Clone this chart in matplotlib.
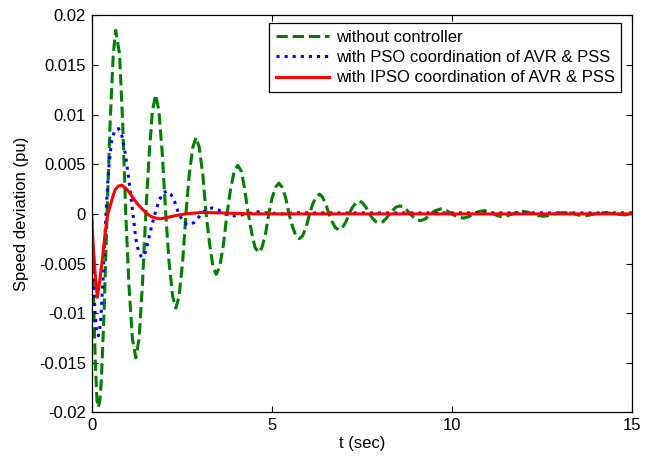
import numpy as np
import matplotlib
matplotlib.use("Agg")
import matplotlib.pyplot as plt

plt.rcParams["font.family"] = ["Liberation Sans", "DejaVu Sans"]
plt.rcParams["font.size"] = 12

# ------------------------
# Data
# ------------------------

# without controller
t_none = [0, 0.05, 0.10, 0.15, 0.19, 0.23, 0.27, 0.35, 0.43,
          0.517, 0.603, 0.67, 0.777, 0.863, 0.95,
          1.04, 1.135, 1.23, 1.32, 1.41, 1.505,
          1.60, 1.69, 1.78, 1.87, 1.965, 2.06,
          2.15, 2.25, 2.34, 2.43, 2.53, 2.62,
          2.71, 2.81, 2.90, 2.99, 3.09, 3.18,
          3.28, 3.37, 3.46, 3.56, 3.66, 3.76,
          3.86, 3.96, 4.06, 4.16, 4.25, 4.35,
          4.45, 4.54, 4.64, 4.73, 4.83, 4.92,
          5.01, 5.11, 5.20, 5.29, 5.39, 5.48,
          5.58, 5.67, 5.77, 5.86, 5.96, 6.05,
          6.14, 6.23, 6.33, 6.41, 6.50, 6.59,
          6.68, 6.77, 6.86, 6.96, 7.06, 7.15,
          7.24, 7.34, 7.43, 7.52, 7.62, 7.71,
          7.80, 7.90, 7.99, 8.08, 8.18, 8.27,
          8.37, 8.46, 8.56, 8.65, 8.75, 8.84,
          8.98, 9.12, 9.27, 9.41,
          9.55, 9.70, 9.85, 10.0,
          10.15, 10.32, 10.46, 10.6,
          10.74, 10.9, 11.02, 11.15,
          11.28, 11.4, 11.54, 11.68,
          11.82, 11.95, 12.1, 12.25,
          12.4, 12.55, 12.7, 12.85,
          13.0, 13.15, 13.28, 13.4,
          13.53, 13.67, 13.81, 13.95,
          14.1, 14.25, 14.38, 14.52,
          14.8, 15.0]
y_none = [0, -0.0075, -0.0145, -0.0188, -0.0195, -0.0188, -0.0170, -0.0098, 0,
          0.0093, 0.0161, 0.0185, 0.0161, 0.0093, 0,
          -0.0073, -0.0126, -0.0145, -0.0126, -0.0073, 0,
          0.0060, 0.0104, 0.0120, 0.0104, 0.0060, 0,
          -0.0048, -0.0083, -0.0095, -0.0083, -0.0048, 0,
          0.0039, 0.0067, 0.0077, 0.0067, 0.0039, 0,
          -0.0031, -0.0053, -0.0061, -0.0053, -0.0031, 0,
          0.0025, 0.0043, 0.0049, 0.0043, 0.0025, 0,
          -0.0020, -0.0034, -0.0039, -0.0034, -0.0020, 0,
          0.0016, 0.0027, 0.0031, 0.0027, 0.0016, 0,
          -0.0013, -0.0022, -0.0025, -0.0022, -0.0013, 0,
          0.0010, 0.0017, 0.0020, 0.0017, 0.0010, 0,
          -0.0008, -0.0014, -0.0016, -0.0014, -0.0008, 0,
          0.00065, 0.0011, 0.0013, 0.0011, 0.00065, 0,
          -0.00045, -0.0008, -0.0009, -0.0008, -0.00045, 0,
          0.0004, 0.0007, 0.0008, 0.0007, 0.0004, 0,
          -0.0005, -0.0007, -0.0005, 0,
          0.00035, 0.0005, 0.00035, 0,
          -0.0003, -0.00042, -0.0003, 0,
          0.00023, 0.00033, 0.00023, 0,
          -0.0002, -0.0003, -0.0002, 0,
          0.00018, 0.00026, 0.00018, 0,
          -0.00017, -0.00024, -0.00017, 0,
          0.0001, 0.00015, 0.0001, 0,
          -0.00013, -0.00018, -0.00013, 0,
          0.00008, 0.00012, 0.00008, 0,
          -0.0001, 0]

# with PSO coordination
t_pso = [0, 0.04, 0.09, 0.14, 0.19, 0.25, 0.32, 0.40, 0.47, 0.55, 0.64,
         0.75, 0.85, 0.95, 1.05, 1.15, 1.23, 1.31, 1.40, 1.49, 1.58, 1.67,
         1.76, 1.87, 1.98, 2.09, 2.20, 2.31, 2.42, 2.52, 2.62, 2.72, 2.83,
         2.94, 3.05, 3.20, 3.36, 3.52, 3.70, 3.84, 3.98, 4.14, 4.30, 4.60,
         4.90, 5.30, 5.70, 6.20, 7.0, 8.0, 9.0, 10.0, 11.0, 12.0, 13.0,
         14.0, 15.0]
y_pso = [0, -0.0050, -0.0095, -0.0118, -0.0123, -0.0110, -0.0065, 0,
         0.0043, 0.0072, 0.0084, 0.0086, 0.0078, 0.0058, 0.0030, 0,
         -0.0025, -0.0039, -0.0044, -0.0039, -0.0026, -0.0012, 0,
         0.0013, 0.0021, 0.0023, 0.0020, 0.0012, 0, -0.0006, -0.0010,
         -0.0011, -0.0009, -0.0005, 0, 0.0005, 0.0006, 0.0004, 0,
         -0.00015, -0.0002, -0.00012, 0, 0.0002, 0.0001, 0, 0.00012,
         0.0001, 0.0001, 0.0001, 0.0001, 0.0001, 0.0001, 0.0001, 0.0001,
         0.0001, 0.0001]

# with IPSO coordination
t_ipso = [0, 0.05, 0.10, 0.16, 0.22, 0.30, 0.375, 0.45, 0.51, 0.58, 0.65,
          0.74, 0.84, 0.95, 1.08, 1.21, 1.35, 1.49, 1.62, 1.76, 1.90, 2.04,
          2.30, 2.60, 3.06, 3.60, 4.50, 6.0, 8.0, 10.0, 12.0, 15.0]
y_ipso = [0, -0.0034, -0.0060, -0.0084, -0.0070, -0.0046, -0.0020, 0,
          0.0007, 0.0016, 0.0024, 0.0028, 0.0029, 0.0026, 0.0020, 0.0013,
          0.0007, 0.0002, -0.0002, -0.0004, -0.0005, -0.0004, -0.0002, 0,
          0.00015, 0.0001, 0, 0, 0, 0, 0, 0]

labels = ["without controller",
          "with PSO coordination of AVR & PSS",
          "with IPSO coordination of AVR & PSS"]

# ------------------------
# Plot
# ------------------------

fig = plt.figure(figsize=(6.51, 4.57), dpi=100)
ax = fig.add_axes([0.1406, 0.0978, 0.8302, 0.8683])

ax.plot(t_none, y_none, color="#008000", linestyle="--", linewidth=2.2, label=labels[0])
ax.plot(t_pso, y_pso, color="#0000ff", linestyle=":", linewidth=2.2, label=labels[1])
ax.plot(t_ipso, y_ipso, color="#ff0000", linestyle="-", linewidth=2.2, label=labels[2])

ax.set_xlim(0, 15)
ax.set_ylim(-0.02, 0.02)
ax.set_xticks([0, 5, 10, 15])
ax.set_yticks([-0.02, -0.015, -0.01, -0.005, 0, 0.005, 0.01, 0.015, 0.02])
ax.set_yticklabels(["-0.02", "-0.015", "-0.01", "-0.005", "0",
                    "0.005", "0.01", "0.015", "0.02"])
ax.tick_params(direction="in", top=True, right=True, length=4, width=0.8, pad=4)
for s in ax.spines.values():
    s.set_linewidth(0.9)

ax.set_xlabel("t (sec)", labelpad=2)
ax.set_ylabel("Speed deviation (pu)", labelpad=7)

leg = ax.legend(loc="upper right", bbox_to_anchor=(0.98, 0.981),
                fancybox=False, edgecolor="black", framealpha=1,
                handlelength=3.2, borderpad=0.4, labelspacing=0.32,
                handletextpad=0.4, borderaxespad=0)
leg.get_frame().set_linewidth(0.9)

fig.savefig("out.png", dpi=100)
